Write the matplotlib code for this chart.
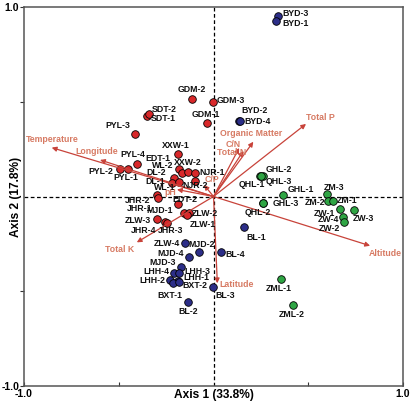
import matplotlib
matplotlib.use('Agg')
import matplotlib.pyplot as plt

plt.rcParams['font.family'] = ['Liberation Sans', 'DejaVu Sans']
plt.rcParams['font.weight'] = 'bold'

# sample scores on axis 1 / axis 2
red_names = ['GDM-1', 'GDM-2', 'GDM-3', 'SDT-1', 'SDT-2', 'PYL-1', 'PYL-2', 'PYL-3', 'PYL-4',
             'XXW-1', 'EDT-1', 'XXW-2', 'WL-2', 'NJR-1', 'DL-2', 'DL-1', 'WL-1', 'NJR-2',
             'JHR-2', 'JHR-1', 'EDT-2', 'MJD-1', 'ZLW-2', 'ZLW-1', 'ZLW-3', 'JHR-4', 'JHR-3']
red_x = [-0.036, -0.115, -0.004, -0.351, -0.343, -0.453, -0.493, -0.414, -0.402,
         -0.186, -0.182, -0.166, -0.133, -0.098, -0.208, -0.219, -0.180, -0.098,
         -0.300, -0.291, -0.186, -0.154, -0.129, -0.140, -0.300, -0.254, -0.243]
red_y = [0.386, 0.516, 0.497, 0.425, 0.433, 0.145, 0.145, 0.328, 0.172,
         0.224, 0.145, 0.124, 0.128, 0.122, 0.098, 0.071, 0.078, 0.083,
         0.006, -0.006, -0.040, -0.089, -0.089, -0.095, -0.120, -0.133, -0.138]

blue_names = ['BYD-3', 'BYD-1', 'BYD-2', 'BYD-4', 'BL-1', 'BL-2', 'BL-3', 'BL-4', 'ZLW-4',
              'MJD-2', 'MJD-4', 'MJD-3', 'LHH-4', 'LHH-3', 'LHH-2', 'LHH-1', 'BXT-1', 'BXT-2']
blue_x = [0.340, 0.330, 0.136, 0.137, 0.163, -0.133, -0.004, 0.040, -0.152,
          -0.075, -0.128, -0.172, -0.206, -0.180, -0.230, -0.187, -0.215, -0.182]
blue_y = [0.954, 0.928, 0.400, 0.398, -0.163, -0.558, -0.476, -0.294, -0.245,
          -0.291, -0.318, -0.372, -0.406, -0.402, -0.443, -0.446, -0.458, -0.451]

green_names = ['GHL-2', 'QHL-1', 'QHL-3', 'GHL-1', 'GHL-3', 'QHL-2', 'ZM-3', 'ZM-2', 'ZM-1',
               'ZW-1', 'ZW-3', 'ZW-4', 'ZW-2', 'ZML-1', 'ZML-2']
green_x = [0.260, 0.245, 0.253, 0.368, 0.263, 0.261, 0.597, 0.606, 0.629,
           0.668, 0.743, 0.682, 0.690, 0.355, 0.421]
green_y = [0.110, 0.110, 0.106, 0.008, -0.033, -0.034, 0.013, -0.022, -0.022,
           -0.066, -0.071, -0.107, -0.136, -0.434, -0.571]

# environmental vectors
env_names = ['Temperature', 'Longitude', 'pH', 'C/P', 'C/N', 'Total N', 'Organic Matter',
             'Total P', 'Altitude', 'Total K', 'Latitude']
env_x = [-0.854, -0.599, -0.193, -0.050, 0.135, 0.157, 0.210, 0.488, 0.826, -0.405, 0.020]
env_y = [0.258, 0.193, 0.037, 0.061, 0.256, 0.240, 0.289, 0.383, -0.260, -0.242, -0.458]

# where the vector names sit (data coords)
env_label_pos = {
    'Temperature': (-0.850, 0.301), 'Longitude': (-0.616, 0.240), 'pH': (-0.230, 0.021),
    'C/P': (-0.011, 0.091), 'C/N': (0.103, 0.272), 'Total N': (0.096, 0.231),
    'Organic Matter': (0.198, 0.334), 'Total P': (0.566, 0.418), 'Altitude': (0.905, -0.300),
    'Total K': (-0.493, -0.282), 'Latitude': (0.122, -0.463),
}

# label offsets in pixels (dx, dy, ha)
lab = {
    'GDM-1': (-1, 9, 'center'), 'GDM-2': (0, 9, 'center'), 'GDM-3': (4, 2, 'left'),
    'SDT-1': (4, -3, 'left'), 'SDT-2': (3, 5, 'left'), 'PYL-1': (-2, -8, 'center'),
    'PYL-2': (-7, -2, 'right'), 'PYL-3': (-5, 9, 'right'), 'PYL-4': (-5, 9, 'center'),
    'XXW-1': (-2, 9, 'center'), 'EDT-1': (-9, 11, 'right'), 'XXW-2': (6, 11, 'center'),
    'WL-2': (-15, 7, 'right'), 'NJR-1': (4, 1, 'left'), 'DL-2': (-8, 5, 'right'),
    'DL-1': (-7, 2, 'right'), 'WL-1': (-4, -6, 'right'), 'NJR-2': (0, -5, 'center'),
    'JHR-2': (-6, -5, 'right'), 'JHR-1': (-6, -11, 'right'), 'EDT-2': (7, 5, 'center'),
    'MJD-1': (-11, 3, 'right'), 'ZLW-2': (3, 0, 'left'), 'ZLW-1': (3, -10, 'left'),
    'ZLW-3': (-6, -1, 'right'), 'JHR-4': (-9, -9, 'right'), 'JHR-3': (-10, -8, 'left'),
    'BYD-3': (4, 2, 'left'), 'BYD-1': (6, -3, 'left'), 'BYD-2': (2, 10, 'left'),
    'BYD-4': (5, 0, 'left'), 'BL-1': (12, -10, 'center'), 'BL-2': (0, -9, 'center'),
    'BL-3': (3, -9, 'left'), 'BL-4': (4, -2, 'left'), 'ZLW-4': (-5, -1, 'right'),
    'MJD-2': (2, 7, 'center'), 'MJD-4': (-5, 3, 'right'), 'MJD-3': (-5, 4, 'right'),
    'LHH-4': (-5, 2, 'right'), 'LHH-3': (5, 1, 'left'), 'LHH-2': (-5, 0, 'right'),
    'LHH-1': (5, 4, 'left'), 'BXT-1': (-3, -12, 'center'), 'BXT-2': (3, -4, 'left'),
    'GHL-2': (3, 6, 'left'), 'QHL-1': (-8, -9, 'center'), 'QHL-3': (4, -5, 'left'),
    'GHL-1': (4, 5, 'left'), 'GHL-3': (9, -1, 'left'), 'QHL-2': (-5, -10, 'center'),
    'ZM-3': (7, 7, 'center'), 'ZM-2': (-3, -2, 'right'), 'ZM-1': (4, 0, 'left'),
    'ZW-1': (-5, -4, 'right'), 'ZW-3': (9, -9, 'center'), 'ZW-4': (-4, -3, 'right'),
    'ZW-2': (-4, -6, 'right'), 'ZML-1': (-2, -10, 'center'), 'ZML-2': (-2, -10, 'center'),
}

fig = plt.figure(figsize=(4.12, 4.03), dpi=100)
ax = fig.add_axes([0.0583, 0.0422, 0.92, 0.9404])
ax.set_xlim(-1, 1)
ax.set_ylim(-1, 1)

ax.axhline(0, color='black', lw=0.9, ls=(0, (3, 2)), zorder=1)
ax.axvline(0, color='black', lw=0.9, ls=(0, (3, 2)), zorder=1)

groups = [(red_names, red_x, red_y, '#d8282a'),
          (blue_names, blue_x, blue_y, '#2c2e88'),
          (green_names, green_x, green_y, '#2fa544')]
for names, xs, ys, col in groups:
    ax.scatter(xs, ys, s=30, color=col, edgecolors='black', linewidths=0.6, zorder=3)
    for n, x, y in zip(names, xs, ys):
        dx, dy, ha = lab[n]
        ax.annotate(n, (x, y), xytext=(dx, dy), textcoords='offset pixels',
                    ha=ha, va='center', fontsize=6.3, fontweight='bold', color='#111111', zorder=5)

arrow_col = '#c8433a'
text_col = '#d77a63'
for n, x, y in zip(env_names, env_x, env_y):
    ax.annotate('', xy=(x, y), xytext=(0, 0),
                arrowprops=dict(arrowstyle='-|>', color=arrow_col, lw=0.9,
                                mutation_scale=7, shrinkA=0, shrinkB=0), zorder=4)
    lx, ly = env_label_pos[n]
    ax.text(lx, ly, n, ha='center', va='center', fontsize=6.3, fontweight='bold',
            color=text_col, zorder=6)

ax.set_xticks([-1, -0.5, 0.5, 1])
ax.set_xticklabels(['-1.0', '', '', '1.0'])
ax.set_yticks([-1, -0.5, 0.5, 1])
ax.set_yticklabels(['-1.0', '', '', '1.0'])
ax.tick_params(axis='x', direction='in', length=3, width=0.8, pad=2, labelsize=7.5, colors='#333333')
ax.tick_params(axis='y', direction='out', length=3, width=0.8, pad=0.5, labelsize=7.5, colors='#333333')
for lbl in ax.get_xticklabels() + ax.get_yticklabels():
    lbl.set_fontweight('bold')
    lbl.set_color('black')
for sp in ax.spines.values():
    sp.set_color('#555555')
    sp.set_linewidth(1.1)

ax.set_xlabel('Axis 1 (33.8%)', fontsize=8.6, fontweight='bold')
ax.set_ylabel('Axis 2 (17.8%)', fontsize=8.6, fontweight='bold')
ax.xaxis.set_label_coords(0.5, -0.008)
ax.yaxis.set_label_coords(-0.005, 0.5)

fig.savefig('out.png', dpi=100)
